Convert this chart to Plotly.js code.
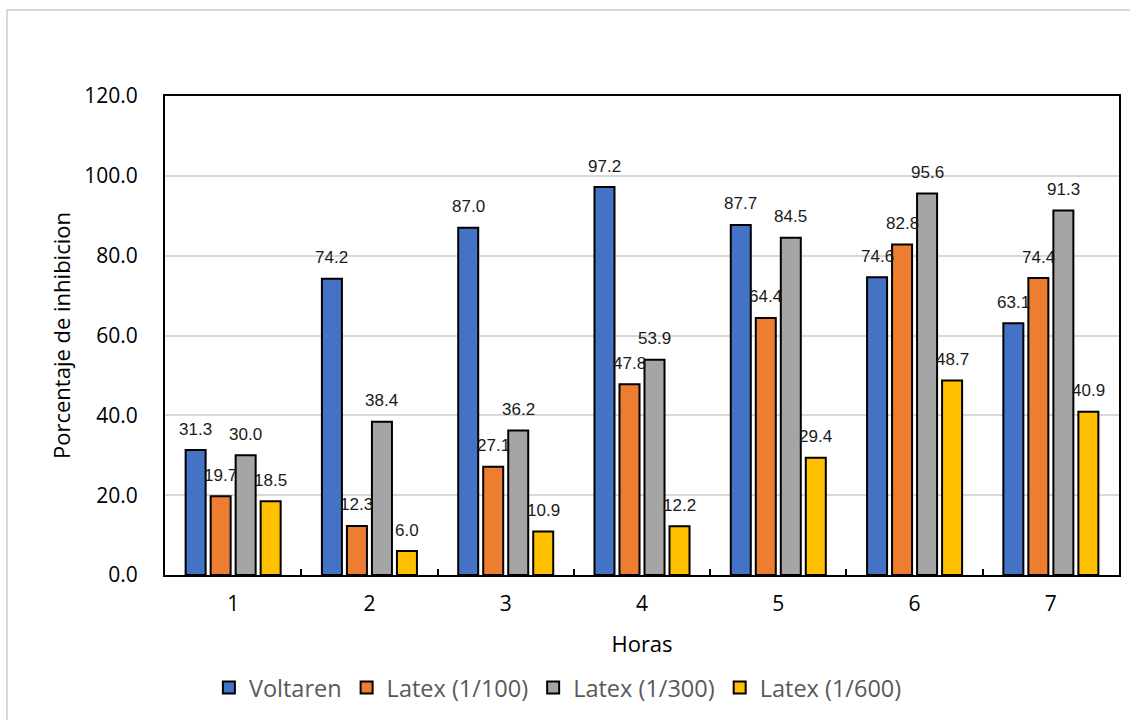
<!DOCTYPE html>
<html>
<head>
<meta charset="utf-8">
<script src="https://cdn.plot.ly/plotly-3.0.1.min.js"></script>
<style>
  html, body { margin: 0; padding: 0; background: #fff; }
  #wrap { position: relative; width: 1130px; height: 720px; overflow: hidden; }
  #chart { width: 1130px; height: 720px; }
  #frame { position: absolute; left: 6px; top: 9px; width: 1200px; height: 800px;
           border-left: 2px solid #d9d9d9; border-top: 2px solid #d9d9d9; pointer-events: none; }
</style>
</head>
<body>
<div id="wrap"><div id="chart"></div><div id="frame"></div></div>
<script>
const categories = ['1', '2', '3', '4', '5', '6', '7'];
const seriesNames = ['Voltaren', 'Latex (1/100)', 'Latex (1/300)', 'Latex (1/600)'];
const voltaren  = [31.3, 74.2, 87.0, 97.2, 87.7, 74.6, 63.1];
const latex100  = [19.7, 12.3, 27.1, 47.8, 64.4, 82.8, 74.4];
const latex300  = [30.0, 38.4, 36.2, 53.9, 84.5, 95.6, 91.3];
const latex600  = [18.5, 6.0, 10.9, 12.2, 29.4, 48.7, 40.9];
const yTickVals = [0, 20, 40, 60, 80, 100, 120];

const series = [voltaren, latex100, latex300, latex600];
const colors = ['#4472C4', '#ED7D31', '#A5A5A5', '#FFC000'];

const margin = {l: 165, r: 11, t: 96, b: 144};
const bargap = 0.266;
const plotW = 1130 - margin.l - margin.r;
const slot = plotW / categories.length * (1 - bargap) / series.length;

const traces = series.map((vals, k) => ({
  type: 'bar',
  name: seriesNames[k],
  x: categories,
  y: vals,
  marker: {color: colors[k], line: {color: '#000', width: 2}},
  hoverinfo: 'skip'
}));

const labelFont = {family: '"Liberation Sans Narrow", "Arial Narrow", "Liberation Sans", Arial, sans-serif', size: 17, color: '#1a1a1a'};
const annotations = [];
series.forEach((vals, k) => {
  vals.forEach((v, i) => {
    annotations.push({
      x: i, y: v, xref: 'x', yref: 'y',   // x = category index on the category axis
      text: v.toFixed(1), showarrow: false,
      xshift: (k - (series.length - 1) / 2) * slot,
      yshift: 21, yanchor: 'middle', xanchor: 'center',
      font: labelFont
    });
  });
});

const axisFont = {family: '"Open Sans", sans-serif', size: 21, color: '#000'};
const titleFont = {family: '"Open Sans", sans-serif', size: 22, color: '#000'};

const layout = {
  width: 1130, height: 720,
  margin: margin,
  paper_bgcolor: 'rgba(0,0,0,0)', plot_bgcolor: '#fff',
  barmode: 'group', bargap: bargap, bargroupgap: 0.2,
  showlegend: true,
  legend: {
    orientation: 'h', x: 0.046, xanchor: 'left', y: -0.233, yanchor: 'middle',
    font: {family: '"Open Sans", sans-serif', size: 23.5, color: '#595959'},
    itemclick: false, itemdoubleclick: false, traceorder: 'normal'
  },
  xaxis: {
    type: 'category', range: [-0.5, categories.length - 0.5], autorange: false,
    tickfont: axisFont,
    title: {text: 'Horas', font: titleFont, standoff: 20},
    showline: true, linecolor: '#000', linewidth: 2, mirror: true,
    ticks: 'inside', ticklen: 6, tickwidth: 2, tickcolor: '#000',
    tickson: 'boundaries', showgrid: false, zeroline: false,
    ticklabelstandoff: 9
  },
  yaxis: {
    range: [0, 120], tickvals: yTickVals, tickformat: '.1f',
    tickfont: axisFont,
    title: {text: 'Porcentaje de inhibicion', font: titleFont, standoff: 8},
    showline: true, linecolor: '#000', linewidth: 2, mirror: true,
    ticks: '', showgrid: true, gridcolor: '#d9d9d9', gridwidth: 2, zeroline: false,
    ticklabelstandoff: 21
  },
  annotations: annotations
};

Plotly.newPlot('chart', traces, layout, {displayModeBar: false, staticPlot: true});
</script>
</body>
</html>
